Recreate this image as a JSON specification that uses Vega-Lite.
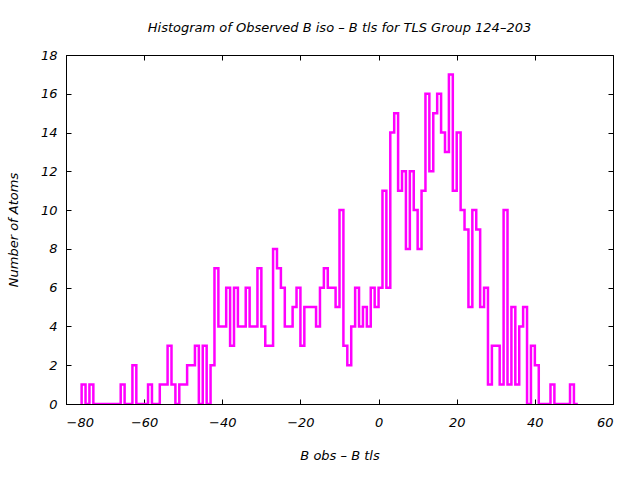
{
  "$schema": "https://vega.github.io/schema/vega-lite/v6.json",
  "autosize": "none",
  "width": 547,
  "height": 349,
  "padding": {"left": 66, "top": 55, "right": 27, "bottom": 76},
  "background": "white",
  "config": {
    "view": {"stroke": "black", "strokeWidth": 1},
    "font": "DejaVu Sans",
    "axis": {
      "grid": false,
      "domainColor": "black",
      "tickColor": "black",
      "labelColor": "black",
      "titleColor": "black",
      "labelFont": "DejaVu Sans",
      "labelFontStyle": "italic",
      "labelFontSize": 13,
      "titleFont": "DejaVu Sans",
      "titleFontStyle": "italic",
      "titleFontWeight": "normal",
      "titleFontSize": 13
    },
    "title": {"font": "DejaVu Sans", "fontStyle": "italic", "fontWeight": "normal", "fontSize": 13, "color": "black"}
  },
  "title": {"text": "Histogram of Observed B iso  –  B tls  for TLS Group 124–203", "anchor": "middle", "offset": 14},
  "data": {
    "values": [
      {"i": 0, "x": -76, "n": 0},
      {"i": 1, "x": -76, "n": 1},
      {"i": 2, "x": -75, "n": 0},
      {"i": 3, "x": -74, "n": 1},
      {"i": 4, "x": -73, "n": 0},
      {"i": 5, "x": -72, "n": 0},
      {"i": 6, "x": -71, "n": 0},
      {"i": 7, "x": -70, "n": 0},
      {"i": 8, "x": -69, "n": 0},
      {"i": 9, "x": -68, "n": 0},
      {"i": 10, "x": -67, "n": 0},
      {"i": 11, "x": -66, "n": 1},
      {"i": 12, "x": -65, "n": 0},
      {"i": 13, "x": -64, "n": 0},
      {"i": 14, "x": -63, "n": 2},
      {"i": 15, "x": -62, "n": 0},
      {"i": 16, "x": -61, "n": 0},
      {"i": 17, "x": -60, "n": 0},
      {"i": 18, "x": -59, "n": 1},
      {"i": 19, "x": -58, "n": 0},
      {"i": 20, "x": -57, "n": 0},
      {"i": 21, "x": -56, "n": 1},
      {"i": 22, "x": -55, "n": 1},
      {"i": 23, "x": -54, "n": 3},
      {"i": 24, "x": -53, "n": 1},
      {"i": 25, "x": -52, "n": 0},
      {"i": 26, "x": -51, "n": 1},
      {"i": 27, "x": -50, "n": 1},
      {"i": 28, "x": -49, "n": 2},
      {"i": 29, "x": -48, "n": 2},
      {"i": 30, "x": -47, "n": 3},
      {"i": 31, "x": -46, "n": 0},
      {"i": 32, "x": -45, "n": 3},
      {"i": 33, "x": -44, "n": 0},
      {"i": 34, "x": -43, "n": 2},
      {"i": 35, "x": -42, "n": 7},
      {"i": 36, "x": -41, "n": 4},
      {"i": 37, "x": -40, "n": 4},
      {"i": 38, "x": -39, "n": 6},
      {"i": 39, "x": -38, "n": 3},
      {"i": 40, "x": -37, "n": 6},
      {"i": 41, "x": -36, "n": 4},
      {"i": 42, "x": -35, "n": 4},
      {"i": 43, "x": -34, "n": 6},
      {"i": 44, "x": -33, "n": 4},
      {"i": 45, "x": -32, "n": 4},
      {"i": 46, "x": -31, "n": 7},
      {"i": 47, "x": -30, "n": 4},
      {"i": 48, "x": -29, "n": 3},
      {"i": 49, "x": -28, "n": 3},
      {"i": 50, "x": -27, "n": 8},
      {"i": 51, "x": -26, "n": 7},
      {"i": 52, "x": -25, "n": 6},
      {"i": 53, "x": -24, "n": 4},
      {"i": 54, "x": -23, "n": 4},
      {"i": 55, "x": -22, "n": 5},
      {"i": 56, "x": -21, "n": 6},
      {"i": 57, "x": -20, "n": 3},
      {"i": 58, "x": -19, "n": 5},
      {"i": 59, "x": -18, "n": 5},
      {"i": 60, "x": -17, "n": 5},
      {"i": 61, "x": -16, "n": 4},
      {"i": 62, "x": -15, "n": 6},
      {"i": 63, "x": -14, "n": 7},
      {"i": 64, "x": -13, "n": 6},
      {"i": 65, "x": -12, "n": 6},
      {"i": 66, "x": -11, "n": 5},
      {"i": 67, "x": -10, "n": 10},
      {"i": 68, "x": -9, "n": 3},
      {"i": 69, "x": -8, "n": 2},
      {"i": 70, "x": -7, "n": 4},
      {"i": 71, "x": -6, "n": 6},
      {"i": 72, "x": -5, "n": 4},
      {"i": 73, "x": -4, "n": 5},
      {"i": 74, "x": -3, "n": 4},
      {"i": 75, "x": -2, "n": 6},
      {"i": 76, "x": -1, "n": 5},
      {"i": 77, "x": 0, "n": 6},
      {"i": 78, "x": 1, "n": 11},
      {"i": 79, "x": 2, "n": 6},
      {"i": 80, "x": 3, "n": 14},
      {"i": 81, "x": 4, "n": 15},
      {"i": 82, "x": 5, "n": 11},
      {"i": 83, "x": 6, "n": 12},
      {"i": 84, "x": 7, "n": 8},
      {"i": 85, "x": 8, "n": 12},
      {"i": 86, "x": 9, "n": 10},
      {"i": 87, "x": 10, "n": 8},
      {"i": 88, "x": 11, "n": 11},
      {"i": 89, "x": 12, "n": 16},
      {"i": 90, "x": 13, "n": 12},
      {"i": 91, "x": 14, "n": 15},
      {"i": 92, "x": 15, "n": 16},
      {"i": 93, "x": 16, "n": 14},
      {"i": 94, "x": 17, "n": 13},
      {"i": 95, "x": 18, "n": 17},
      {"i": 96, "x": 19, "n": 11},
      {"i": 97, "x": 20, "n": 14},
      {"i": 98, "x": 21, "n": 10},
      {"i": 99, "x": 22, "n": 9},
      {"i": 100, "x": 23, "n": 5},
      {"i": 101, "x": 24, "n": 10},
      {"i": 102, "x": 25, "n": 9},
      {"i": 103, "x": 26, "n": 5},
      {"i": 104, "x": 27, "n": 6},
      {"i": 105, "x": 28, "n": 1},
      {"i": 106, "x": 29, "n": 3},
      {"i": 107, "x": 30, "n": 3},
      {"i": 108, "x": 31, "n": 1},
      {"i": 109, "x": 32, "n": 10},
      {"i": 110, "x": 33, "n": 1},
      {"i": 111, "x": 34, "n": 5},
      {"i": 112, "x": 35, "n": 1},
      {"i": 113, "x": 36, "n": 4},
      {"i": 114, "x": 37, "n": 5},
      {"i": 115, "x": 38, "n": 0},
      {"i": 116, "x": 39, "n": 3},
      {"i": 117, "x": 40, "n": 2},
      {"i": 118, "x": 41, "n": 0},
      {"i": 119, "x": 42, "n": 0},
      {"i": 120, "x": 43, "n": 0},
      {"i": 121, "x": 44, "n": 1},
      {"i": 122, "x": 45, "n": 0},
      {"i": 123, "x": 46, "n": 0},
      {"i": 124, "x": 47, "n": 0},
      {"i": 125, "x": 48, "n": 0},
      {"i": 126, "x": 49, "n": 1},
      {"i": 127, "x": 50, "n": 0},
      {"i": 128, "x": 51, "n": 0}
    ]
  },
  "layer": [
    {
      "mark": {"type": "line", "interpolate": "step-after", "color": "#ff00ff", "strokeWidth": 2.5, "clip": true},
      "encoding": {
        "x": {"field": "x", "type": "quantitative", "scale": {"domain": [-80, 60], "nice": false, "zero": false},
              "axis": {"orient": "bottom", "values": [-80, -60, -40, -20, 0, 20, 40, 60], "tickSize": -5, "labelPadding": 17, "title": "B obs  –  B tls", "titlePadding": 20}},
        "y": {"field": "n", "type": "quantitative", "scale": {"domain": [0, 18], "nice": false},
              "axis": {"orient": "left", "values": [0, 2, 4, 6, 8, 10, 12, 14, 16, 18], "tickSize": -5, "labelPadding": 14, "title": "Number of Atoms", "titlePadding": 20}},
        "order": {"field": "i", "type": "quantitative"}
      }
    },
    {
      "mark": {"type": "line", "opacity": 0},
      "encoding": {
        "x": {"field": "x", "type": "quantitative", "axis": {"orient": "top", "values": [-80, -60, -40, -20, 0, 20, 40, 60], "tickSize": -5, "labels": false, "domain": false, "title": null}},
        "y": {"field": "n", "type": "quantitative", "axis": {"orient": "right", "values": [0, 2, 4, 6, 8, 10, 12, 14, 16, 18], "tickSize": -5, "labels": false, "domain": false, "title": null}},
        "order": {"field": "i", "type": "quantitative"}
      }
    }
  ],
  "resolve": {"axis": {"x": "independent", "y": "independent"}}
}
